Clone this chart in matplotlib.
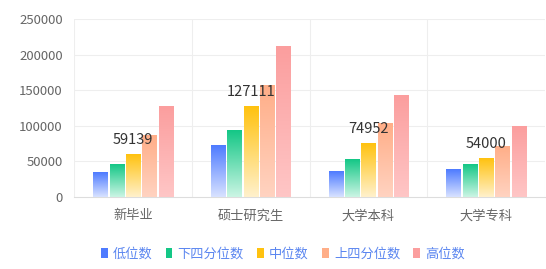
import numpy as np
import matplotlib.pyplot as plt
from matplotlib.patches import Patch
from matplotlib.colors import to_rgba

plt.rcParams['font.family'] = ['Noto Sans CJK SC', 'DejaVu Sans']

# 数据
categories = ['新毕业', '硕士研究生', '大学本科', '大学专科']
series = ['低位数', '下四分位数', '中位数', '上四分位数', '高位数']
low = [35000, 73000, 36500, 38000]
q1 = [45000, 94000, 52000, 45000]
median = [59139, 127111, 74952, 54000]
q3 = [87000, 157000, 103500, 71500]
high = [126500, 212000, 143000, 98500]
values = [low, q1, median, q3, high]

# 渐变色 (上 -> 下)
top_colors = ['#4E7BFF', '#14C786', '#FFC20F', '#FFAE88', '#FB9E9E']
bottom_colors = ['#D8E2FF', '#CBF5E4', '#FFF1CC', '#FFD3C1', '#FFC6C6']

fig = plt.figure(figsize=(5.46, 2.69), dpi=100)
ax = fig.add_axes([74 / 546, 72 / 269, 471 / 546, 178 / 269])

x = np.arange(len(categories))
width = 0.119
pitch = 0.139

for i, vals in enumerate(values):
    pos = x + (i - 2) * pitch
    bars = ax.bar(pos, vals, width, color='none', zorder=3)
    c_top = np.array(to_rgba(top_colors[i]))
    c_bot = np.array(to_rgba(bottom_colors[i]))
    t = np.linspace(0, 1, 100)[:, None]
    grad = (c_top * (1 - t) + c_bot * t)[:, None, :]
    for b in bars:
        x0, h = b.get_x(), b.get_height()
        ax.imshow(grad, extent=[x0, x0 + width, 0, h], aspect='auto',
                  zorder=3, interpolation='bilinear')

# 中位数标签
for xi, v in zip(x, median):
    ax.text(xi, v + 11000, str(v), ha='center', va='bottom',
            fontsize=10.5, color='#333333', zorder=5)

ax.set_xlim(-0.5, len(categories) - 0.5)
ax.set_ylim(0, 250000)
ax.set_yticks(np.arange(0, 250001, 50000))
ax.set_xticks(x)
ax.set_xticklabels(categories)

# 网格
for yv in np.arange(50000, 250001, 50000):
    ax.axhline(yv, color='#eeeeee', lw=0.8, zorder=0)
for xv in np.arange(-0.5, len(categories), 1.0):
    ax.axvline(xv, color='#eeeeee', lw=0.8, zorder=0)

for s in ['top', 'right', 'left']:
    ax.spines[s].set_visible(False)
ax.spines['bottom'].set_color('#dddddd')
ax.tick_params(axis='both', length=0, colors='#666666', labelsize=9.5)
ax.tick_params(axis='x', pad=9)
ax.tick_params(axis='y', pad=8)

handles = [Patch(facecolor=top_colors[i], edgecolor='none', label=series[i])
           for i in range(len(series))]
leg = fig.legend(handles=handles, loc='center', ncol=5,
                 bbox_to_anchor=(283 / 546, 1 - 254 / 269), frameon=False,
                 fontsize=9.5, handlelength=0.5, handleheight=0.8,
                 handletextpad=0.4, columnspacing=1.0)
for txt in leg.get_texts():
    txt.set_color('#5B86F0')

fig.savefig('out.png', dpi=100)
